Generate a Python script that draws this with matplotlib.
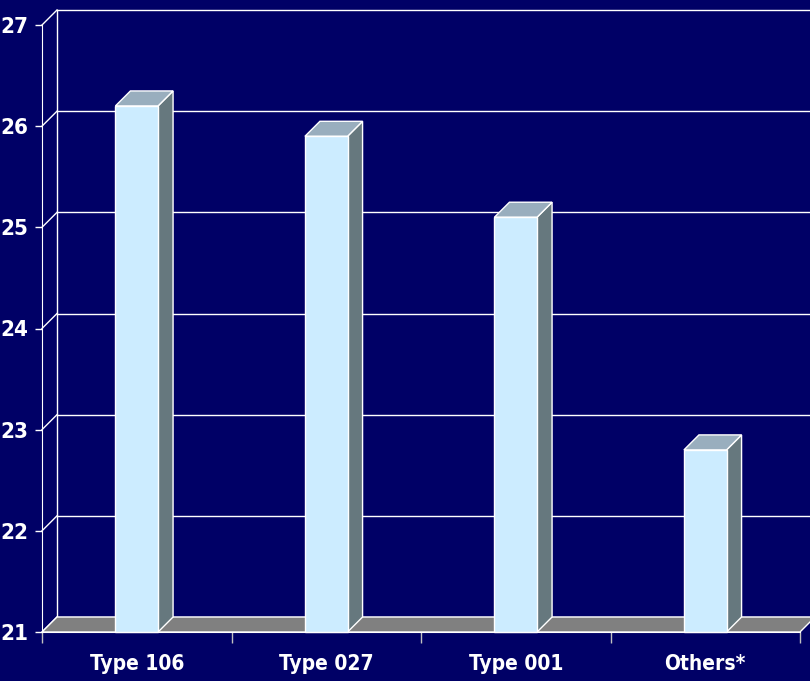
import matplotlib.pyplot as plt
from matplotlib.patches import Polygon
from matplotlib import font_manager
from matplotlib.font_manager import FontProperties

# data
categories = ['Type 106', 'Type 027', 'Type 001', 'Others*']
values = [26.2, 25.9, 25.1, 22.8]
yticks = [21, 22, 23, 24, 25, 26, 27]

# colours
bg = '#000066'
front_c = '#CCECFF'
top_c = '#99AEBE'
side_c = '#66787E'
floor_c = '#808080'

# look for a narrow bold sans (Arial Narrow look-alike)
narrow = None
for f in font_manager.fontManager.ttflist:
    name = f.name + ' ' + f.fname
    if ('Narrow' in name or 'Condensed' in name or f.stretch in ('condensed', 'semi-condensed')) \
            and f.weight in ('bold', 700) and 'Mono' not in name and 'Serif' not in name:
        narrow = f.fname
        break
if narrow:
    yfp = FontProperties(fname=narrow, size=16)
    xfp = FontProperties(fname=narrow, size=15)
else:
    yfp = FontProperties(family='Liberation Sans', weight='bold', size=15)
    xfp = FontProperties(family='Liberation Sans', weight='bold', size=14)

fig = plt.figure(figsize=(8.1, 6.81), dpi=100, facecolor=bg)
ax = fig.add_axes([42 / 810, 49 / 681, 758 / 810, 607 / 681])
ax.set_facecolor(bg)
ax.set_xlim(0, 4)
ax.set_ylim(21, 27)

# depth offset in data units (approx 14 px)
dx = 15 / 189.5
dy = 15 / 101.2
bw = 0.225

# back wall gridlines + side wall diagonals
for v in yticks:
    ax.plot([dx, 4.2], [v + dy, v + dy], color='white', lw=1, clip_on=False, zorder=1)
    ax.plot([0, dx], [v, v + dy], color='white', lw=1, clip_on=False, zorder=1)
ax.plot([dx, dx], [21 + dy, 27 + dy], color='white', lw=1, clip_on=False, zorder=1)

# floor
floor = Polygon([(0, 21), (4, 21), (4 + dx, 21 + dy), (dx, 21 + dy)], closed=True,
                facecolor=floor_c, edgecolor='white', lw=1, clip_on=False, zorder=2)
ax.add_patch(floor)

# bars
for i, v in enumerate(values):
    x0 = i + 0.5 - bw / 2
    x1 = x0 + bw
    ax.bar(i + 0.5, v - 21, bottom=21, width=bw, color=front_c, edgecolor='white', lw=1, zorder=4, clip_on=False)
    side = Polygon([(x1, 21), (x1 + dx, 21 + dy), (x1 + dx, v + dy), (x1, v)], closed=True,
                   facecolor=side_c, edgecolor='white', lw=1, zorder=3, clip_on=False)
    top = Polygon([(x0, v), (x1, v), (x1 + dx, v + dy), (x0 + dx, v + dy)], closed=True,
                  facecolor=top_c, edgecolor='white', lw=1, zorder=3, clip_on=False)
    ax.add_patch(side)
    ax.add_patch(top)

# axes styling
for s in ['top', 'right']:
    ax.spines[s].set_visible(False)
ax.spines['left'].set_color('white')
ax.spines['bottom'].set_color('white')
ax.spines['left'].set_zorder(5)
ax.spines['bottom'].set_zorder(5)

ax.set_yticks(yticks)
ax.set_yticklabels([str(t) for t in yticks])
ax.set_xticks(range(5))
ax.set_xticklabels([])
ax.set_xticks([i + 0.5 for i in range(4)], minor=True)
ax.set_xticklabels(categories, minor=True)
ax.tick_params(axis='y', colors='white', length=5, width=1, pad=5)
ax.tick_params(axis='x', which='major', colors='#C0C0C0', length=8, width=1)
ax.tick_params(axis='x', which='minor', length=0, colors='white', pad=16)
for lab in ax.get_yticklabels():
    lab.set_fontproperties(yfp)
    lab.set_color('white')
for lab in ax.get_xticklabels(minor=True):
    lab.set_fontproperties(xfp)
    lab.set_color('white')

fig.savefig('out.png', dpi=100, facecolor=bg)
